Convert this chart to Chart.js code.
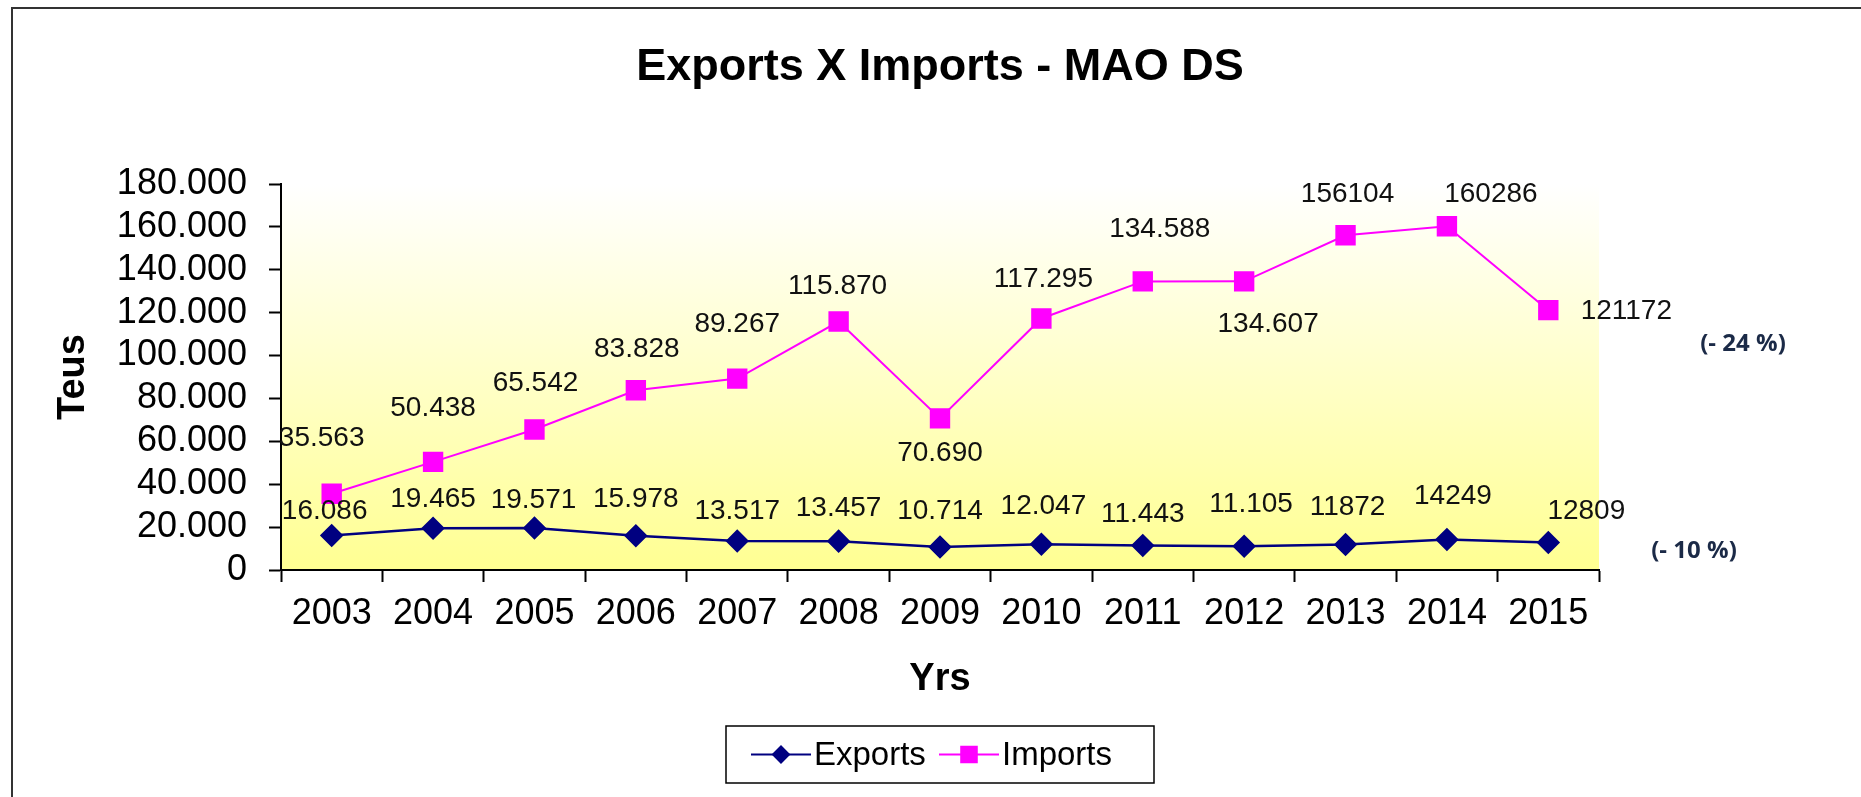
<!DOCTYPE html>
<html>
<head>
<meta charset="utf-8">
<script src="https://cdn.jsdelivr.net/npm/chart.js@4.4.0/dist/chart.umd.min.js"></script>
<style>
  html, body { margin: 0; padding: 0; background: #fff; }
  #wrap { width: 1861px; height: 797px; }
</style>
</head>
<body>
<div id="wrap"><canvas id="tradeChart" width="1861" height="797"></canvas></div>
<script>
// values (Teus per year)
const years = ['2003', '2004', '2005', '2006', '2007', '2008', '2009', '2010', '2011', '2012', '2013', '2014', '2015'];
const exportsTeus = [16086, 19465, 19571, 15978, 13517, 13457, 10714, 12047, 11443, 11105, 11872, 14249, 12809];
const importsTeus = [35563, 50438, 65542, 83828, 89267, 115870, 70690, 117295, 134588, 134607, 156104, 160286, 121172];

// label texts exactly as printed on the chart
const exportsLabels = ['16.086', '19.465', '19.571', '15.978', '13.517', '13.457', '10.714', '12.047', '11.443', '11.105', '11872', '14249', '12809'];
const importsLabels = ['35.563', '50.438', '65.542', '83.828', '89.267', '115.870', '70.690', '117.295', '134.588', '134.607', '156104', '160286', '121172'];

// where each label sits relative to its point (px)
const exportsLabelShift = [[-7, -24], [0, -29], [-1, -28], [0, -36], [0, -30], [0, -33], [0, -36], [2, -38], [0, -31], [7, -42], [2, -37], [6, -43], [38, -31]];
const importsLabelShift = [[-10, -55], [0, -54], [1, -46], [1, -41], [0, -54], [-1, -35], [0, 35], [2, -39], [17, -52], [24, 43], [2, -41], [44, -32], [78, 1]];

const changeNotes = ['(- 10 %)', '(- 24 %)'];

const FONT = "'Liberation Sans', Arial, sans-serif";
Chart.defaults.font.family = FONT;
Chart.defaults.color = '#000';

function dotted(v) {
  return String(v).replace(/\B(?=(\d{3})+(?!\d))/g, '.');
}

// white page, frame, and the white->yellow fill behind the plot
const plotBackground = {
  id: 'plotBackground',
  beforeDraw(chart) {
    const { ctx, chartArea: a } = chart;
    ctx.save();
    ctx.fillStyle = '#fff';
    ctx.fillRect(0, 0, chart.width, chart.height);
    const g = ctx.createLinearGradient(0, a.top, 0, a.bottom);
    g.addColorStop(0, '#ffffff');
    g.addColorStop(1, '#ffff92');
    ctx.fillStyle = g;
    ctx.fillRect(a.left, a.top, a.right - a.left, a.bottom - a.top);
    ctx.strokeStyle = '#333';
    ctx.lineWidth = 2;
    ctx.strokeRect(12, 8, chart.width + 50, chart.height + 50);
    ctx.restore();
  }
};

const pointLabels = {
  id: 'pointLabels',
  afterDatasetsDraw(chart) {
    const ctx = chart.ctx;
    const sets = [[exportsLabels, exportsLabelShift], [importsLabels, importsLabelShift]];
    ctx.save();
    ctx.font = '28px ' + FONT;
    ctx.fillStyle = '#111';
    ctx.textAlign = 'center';
    ctx.textBaseline = 'middle';
    chart.data.datasets.forEach((ds, i) => {
      chart.getDatasetMeta(i).data.forEach((pt, j) => {
        const [dx, dy] = sets[i][1][j];
        ctx.fillText(sets[i][0][j], pt.x + dx, pt.y + dy);
      });
    });

    // change notes to the right of the last points
    const y = chart.scales.y;
    const last = years.length - 1;
    ctx.font = "bold 24px 'Open Sans', sans-serif";
    ctx.fillStyle = '#1b2a47';
    ctx.fillText(changeNotes[0], chart.chartArea.right + 95, y.getPixelForValue(exportsTeus[last]) + 9);
    ctx.fillText(changeNotes[1], chart.chartArea.right + 144, y.getPixelForValue(importsTeus[last]) + 34);
    ctx.restore();
  }
};

// boxed legend under the axis title, line + marker per series
const boxLegend = {
  id: 'boxLegend',
  afterDraw(chart) {
    const { ctx, chartArea: a } = chart;
    const cx = (a.left + a.right) / 2;
    const top = 726, h = 57, w = 428;
    const mid = top + h / 2;
    ctx.save();
    ctx.strokeStyle = '#000';
    ctx.lineWidth = 1.5;
    ctx.strokeRect(cx - w / 2, top, w, h);
    ctx.font = '33px ' + FONT;
    ctx.textBaseline = 'middle';
    ctx.textAlign = 'left';
    const items = [
      { x: cx - 189, ds: chart.data.datasets[0] },
      { x: cx - 1, ds: chart.data.datasets[1] }
    ];
    items.forEach(it => {
      ctx.strokeStyle = it.ds.borderColor;
      ctx.lineWidth = 2;
      ctx.beginPath();
      ctx.moveTo(it.x, mid);
      ctx.lineTo(it.x + 60, mid);
      ctx.stroke();
      Chart.helpers.drawPoint(ctx, {
        pointStyle: it.ds.pointStyle,
        radius: it.ds.pointStyle === 'rect' ? 11 : 8,
        borderWidth: 1
      }, it.x + 30, mid);
      ctx.fillStyle = it.ds.backgroundColor;
      ctx.fill();
      ctx.fillStyle = '#000';
      ctx.fillText(it.ds.label, it.x + 63, mid + 1);
    });
    ctx.restore();
  }
};

const ctx = document.getElementById('tradeChart').getContext('2d');
const chart = new Chart(ctx, {
  type: 'line',
  data: {
    labels: years,
    datasets: [
      {
        label: 'Exports',
        data: exportsTeus,
        borderColor: '#000080',
        backgroundColor: '#000080',
        borderWidth: 2.5,
        pointStyle: 'rectRot',
        pointRadius: 10,
        tension: 0
      },
      {
        label: 'Imports',
        data: importsTeus,
        borderColor: '#ff00ff',
        backgroundColor: '#ff00ff',
        borderWidth: 2,
        pointStyle: 'rect',
        pointRadius: 13,
        tension: 0
      }
    ]
  },
  options: {
    responsive: false,
    animation: false,
    layout: { padding: { left: 0, right: 262, top: 0, bottom: 0 } },
    plugins: {
      legend: { display: false },
      tooltip: { enabled: false },
      title: {
        display: true,
        fullSize: false,
        text: 'Exports X Imports - MAO DS',
        color: '#000',
        font: { size: 45, weight: 'bold' },
        padding: { top: 41, bottom: 89 }
      }
    },
    scales: {
      x: {
        offset: true,
        grid: { display: true, drawOnChartArea: false, offset: true, color: '#000', tickLength: 12, tickWidth: 2 },
        border: { color: '#000', width: 2 },
        ticks: { color: '#000', font: { size: 36 }, padding: 10, maxRotation: 0, autoSkip: false },
        title: { display: true, text: 'Yrs', color: '#000', font: { size: 38, weight: 'bold' }, padding: { top: 0, bottom: 95 } },
        afterFit(s) { s.height = 227; }
      },
      y: {
        min: 0,
        max: 180000,
        grid: { display: true, drawOnChartArea: false, color: '#000', tickLength: 12, tickWidth: 2 },
        border: { color: '#000', width: 2 },
        ticks: { stepSize: 20000, autoSkip: false, color: '#000', font: { size: 36, lineHeight: 1 }, padding: 22, callback: v => dotted(v) },
        title: { display: true, text: 'Teus', color: '#000', font: { size: 38, weight: 'bold' }, padding: { top: 51, bottom: 0 } },
        afterFit(s) { s.width = 281; }
      }
    }
  },
  plugins: [plotBackground, pointLabels, boxLegend]
});
</script>
</body>
</html>
